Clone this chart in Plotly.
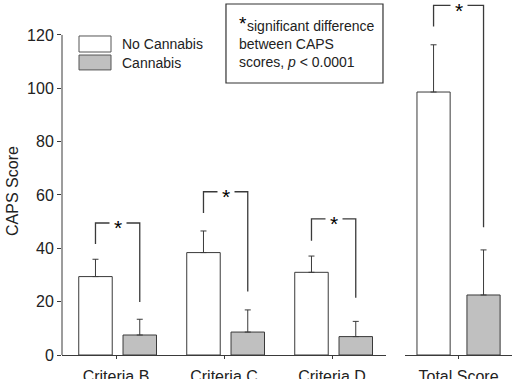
import plotly.graph_objects as go

# ---- data ----
criteria = ["Criteria B", "Criteria C", "Criteria D"]
total_cat = ["Total Score"]
no_cannabis = [29.4, 38.4, 31.0]
no_cannabis_err = [6.5, 8.1, 6.1]
cannabis = [7.5, 8.6, 6.9]
cannabis_err = [5.9, 8.3, 5.7]
total_no_cannabis = [98.6]
total_no_cannabis_err = [17.7]
total_cannabis = [22.5]
total_cannabis_err = [16.9]
# significance brackets: top, left-leg bottom, right-leg bottom
bracket_top = [49.5, 61.2, 51.0]
bracket_left = [41.6, 53.2, 42.8]
bracket_right = [19.9, 23.8, 21.5]
total_bracket_top = [131.1]
total_bracket_left = [123.2]
total_bracket_right = [47.9]
y_ticks = [0, 20, 40, 60, 80, 100, 120]
note_lines = ["significant difference", "between CAPS", "scores, <i>p</i> &lt; 0.0001"]
legend_labels = ["No Cannabis", "Cannabis"]

FONT = "Liberation Sans, Arial, sans-serif"
LINE = "#3a3a3a"
GRAY = "#c0c0c0"
TXT = "#222"
W = 0.31
OFF1 = (-0.345, 0.065)
OFF2 = (-0.388, 0.079)

fig = go.Figure()

def add_bars(x, vals, errs, fill, off, xaxis):
    fig.add_trace(go.Bar(
        x=x, y=vals, width=W, offset=off, xaxis=xaxis, yaxis="y",
        marker=dict(color=fill, line=dict(color=LINE, width=1)),
        error_y=dict(type="data", array=errs, arrayminus=[0] * len(errs),
                     symmetric=False, color=LINE, thickness=1, width=3),
        showlegend=False,
    ))

add_bars(criteria, no_cannabis, no_cannabis_err, "white", OFF1[0], "x")
add_bars(criteria, cannabis, cannabis_err, GRAY, OFF1[1], "x")
add_bars(total_cat, total_no_cannabis, total_no_cannabis_err, "white", OFF2[0], "x2")
add_bars(total_cat, total_cannabis, total_cannabis_err, GRAY, OFF2[1], "x2")

shapes = []
annotations = []

def add_brackets(tops, lefts, rights, off, xref):
    for i, (t, l, r) in enumerate(zip(tops, lefts, rights)):
        xl = i + off[0] + W / 2
        xr = i + off[1] + W / 2
        shapes.append(dict(type="path", xref=xref, yref="y",
                           path=f"M {xl},{l} L {xl},{t} L {xr},{t} L {xr},{r}",
                           line=dict(color=LINE, width=1.3)))
        annotations.append(dict(x=(xl + xr) / 2, y=t, xref=xref, yref="y",
                                xanchor="center", yanchor="middle",
                                text="*", showarrow=False, bgcolor="white",
                                borderpad=4, yshift=-5,
                                font=dict(family=FONT, size=21, color="black")))

add_brackets(bracket_top, bracket_left, bracket_right, OFF1, "x")
add_brackets(total_bracket_top, total_bracket_left, total_bracket_right, OFF2, "x2")

# y axis line (only to 120)
shapes.append(dict(type="line", xref="paper", yref="y", x0=0, x1=0,
                   y0=0, y1=max(y_ticks), line=dict(color=LINE, width=1)))

# custom legend
leg_boxes = [(0.8535, 0.8986, "white"), (0.803, 0.845, GRAY)]
leg_text_y = [0.876, 0.8225]
for (y0, y1, c), lbl, ty in zip(leg_boxes, legend_labels, leg_text_y):
    shapes.append(dict(type="rect", xref="paper", yref="paper", x0=0.0378, x1=0.1089,
                       y0=y0, y1=y1, fillcolor=c, line=dict(color="#555", width=1)))
    annotations.append(dict(x=0.1289, y=ty, xref="paper", yref="paper",
                            xanchor="left", yanchor="middle",
                            text=lbl, showarrow=False,
                            font=dict(family=FONT, size=14, color=TXT)))

# note box
shapes.append(dict(type="rect", xref="paper", yref="paper", x0=0.3644, x1=0.7133,
                   y0=0.7662, y1=0.9887, fillcolor="white", line=dict(color="#333", width=1.2)))
note_y = [0.927, 0.876, 0.825]
note_x = [0.4067, 0.3889, 0.3889]
for txt, nx, ny in zip(note_lines, note_x, note_y):
    annotations.append(dict(x=nx, y=ny, xref="paper", yref="paper",
                            xanchor="left", yanchor="middle", showarrow=False,
                            text=txt, font=dict(family=FONT, size=14, color=TXT)))
annotations.append(dict(x=0.3889, y=0.935, xref="paper", yref="paper",
                        xanchor="left", yanchor="middle", showarrow=False,
                        text="*", font=dict(family=FONT, size=19, color="black")))

# y-axis title
annotations.append(dict(x=-0.109, y=0.462, xref="paper", yref="paper", textangle=-90,
                        xanchor="center", yanchor="middle",
                        text="CAPS Score", showarrow=False,
                        font=dict(family=FONT, size=16, color=TXT)))

axis_common = dict(showgrid=False, zeroline=False, showline=True, linecolor=LINE,
                   linewidth=1, ticks="outside", ticklen=3, tickcolor=LINE,
                   ticklabelstandoff=4, automargin=False,
                   tickfont=dict(family=FONT, size=16, color=TXT))

fig.update_layout(
    width=512, height=379,
    margin=dict(l=62, r=0, t=0, b=24, autoexpand=False),
    paper_bgcolor="white", plot_bgcolor="white",
    barmode="overlay",
    xaxis=dict(domain=[0, 0.72], anchor="y", range=[-0.5, 2.5], **axis_common),
    xaxis2=dict(domain=[0.7622, 1], anchor="y", range=[-0.5, 0.5], **axis_common),
    yaxis=dict(range=[0, 133.1], tickvals=y_ticks, showgrid=False, zeroline=False,
               showline=False, ticks="outside", ticklen=4, tickcolor=LINE,
               automargin=False,
               tickfont=dict(family=FONT, size=16, color=TXT)),
    shapes=shapes,
    annotations=annotations,
)

fig.write_html("out.html", config={"displayModeBar": False},
               post_script="document.body.style.margin='0';")
